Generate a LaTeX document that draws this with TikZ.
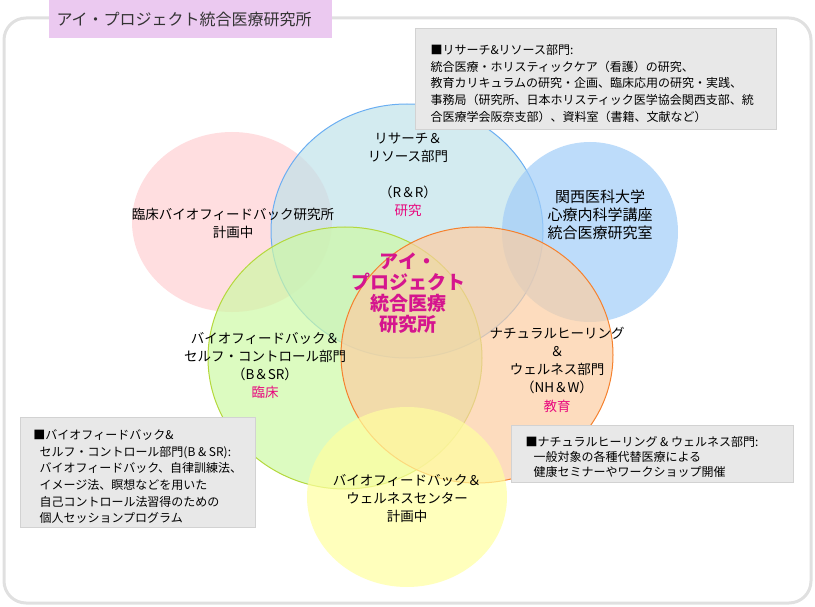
\documentclass[tikz,border=0pt]{standalone}
\usepackage{fontspec}
\setmainfont{Noto Sans CJK JP}
\definecolor{frameGray}{HTML}{E0E0E0}
\definecolor{titleLilac}{HTML}{EBC9F0}
\definecolor{titleInk}{HTML}{333333}
\definecolor{boxGray}{HTML}{E8E8E8}
\definecolor{boxLine}{HTML}{D2D2D2}
\definecolor{accentPink}{HTML}{E8087E}
\definecolor{coreMagenta}{HTML}{D5158E}
\definecolor{pinkFill}{HTML}{FFD0D3}
\definecolor{skyFill}{HTML}{C0E2EA}
\definecolor{skyLine}{HTML}{6AAEF2}
\definecolor{blueFill}{HTML}{A1CDF8}
\definecolor{limeFill}{HTML}{CDF9A5}
\definecolor{limeLine}{HTML}{B4D83C}
\definecolor{orangeFill}{HTML}{FCCDA2}
\definecolor{orangeLine}{HTML}{F5812E}
\definecolor{yellowFill}{HTML}{FFFF9F}

\begin{document}
\begin{tikzpicture}[x=1pt,y=-1pt,line width=1pt,
  bubble/.style={fill opacity=0.7},
  infobox/.style={fill=boxGray,draw=boxLine,line width=0.6pt,inner sep=0pt,anchor=north west},
  notetext/.style={anchor=north west,inner sep=0pt,align=left,font=\fontsize{12}{16.7}\selectfont},
  bubbletext/.style={align=center,inner sep=0pt,font=\fontsize{13.5}{18.2}\selectfont}]
\useasboundingbox (0,0) rectangle (815,607);
% ---------- frame ----------
\draw[frameGray,line width=3pt,rounded corners=22pt] (4,18) rectangle (811,603);
% ---------- circles ----------
\fill[bubble,pinkFill] (232,222) ellipse [x radius=100pt,y radius=90pt];
\filldraw[bubble,fill=skyFill,draw=skyLine] (407,231) ellipse [x radius=136pt,y radius=127pt];
\fill[bubble,blueFill] (590,232) ellipse [x radius=88pt,y radius=90pt];
\filldraw[bubble,fill=limeFill,draw=limeLine] (345,358) ellipse [x radius=137pt,y radius=131pt];
\filldraw[bubble,fill=orangeFill,draw=orangeLine] (477,355) ellipse [x radius=136pt,y radius=128pt];
\fill[bubble,yellowFill] (407,497) ellipse [x radius=100pt,y radius=90pt];
% ---------- circle labels ----------
\node[bubbletext] (clinic) at (233,223.5) {臨床バイオフィードバック研究所\\計画中};
\node[bubbletext] (rnr) at (408,175) {リサーチ＆\\リソース部門\\[17.5pt]（R＆R）\\\textcolor{accentPink}{研究}};
\node[bubbletext,font=\fontsize{15}{18.2}\selectfont] (kansai) at (600,215) {関西医科大学\\心療内科学講座\\統合医療研究室};
\node[bubbletext] (bsr) at (265,365.5) {バイオフィードバック＆\\セルフ・コントロール部門\\（B＆SR）\\\textcolor{accentPink}{臨床}};
\node[bubbletext] (nhw) at (557,369.5) {ナチュラルヒーリング\\＆\\ウェルネス部門\\（NH＆W）\\\textcolor{accentPink}{教育}};
\node[bubbletext] (wellness) at (407,498.5) {バイオフィードバック＆\\ウェルネスセンター\\計画中};
\node[bubbletext,text=coreMagenta,font=\fontsize{19}{21}\selectfont\bfseries] (core) at (408,293.5) {アイ・\\プロジェクト\\統合医療\\研究所};
% ---------- note boxes ----------
\node[infobox,minimum width=361pt,minimum height=101pt] (rrbox) at (415,28) {};
\node[notetext] (rrnote) at (430,44) {■リサーチ\&リソース部門:\\統合医療・ホリスティックケア（看護）の研究、\\教育カリキュラムの研究・企画、臨床応用の研究・実践、\\事務局（研究所、日本ホリスティック医学協会関西支部、統\\合医療学会阪奈支部）、資料室（書籍、文献など）};
\node[infobox,minimum width=235pt,minimum height=110pt] (bsrbox) at (20,417) {};
\node[notetext] (bsrnote) at (33,429) {■バイオフィードバック\&\\\hspace*{6pt}セルフ・コントロール部門(B \& SR):\\\hspace*{6pt}バイオフィードバック、自律訓練法、\\\hspace*{6pt}イメージ法、瞑想などを用いた\\\hspace*{6pt}自己コントロール法習得のための\\\hspace*{6pt}個人セッションプログラム};
\node[infobox,minimum width=282pt,minimum height=57pt] (nhwbox) at (511,425) {};
\node[notetext,font=\fontsize{12}{15}\selectfont] (nhwnote) at (525,436) {■ナチュラルヒーリング \& ウェルネス部門:\\\hspace*{8pt}一般対象の各種代替医療による\\\hspace*{8pt}健康セミナーやワークショップ開催};
% ---------- title ----------
\node[fill=titleLilac,text=titleInk,anchor=north west,inner xsep=8pt,inner ysep=0pt,
  text width=267pt,minimum height=38pt,align=left,font=\fontsize{16}{16}\selectfont]
  (title) at (48,0) {アイ・プロジェクト統合医療研究所};
\end{tikzpicture}
\end{document}
